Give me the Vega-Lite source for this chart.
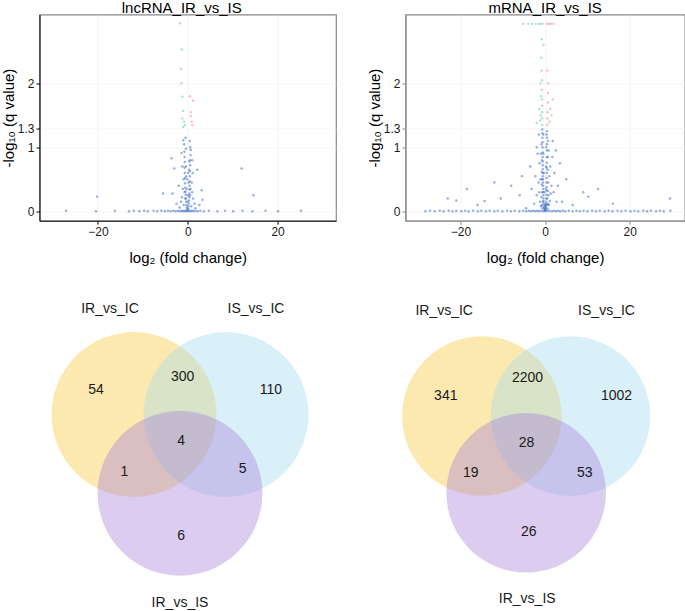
{
  "$schema": "https://vega.github.io/schema/vega-lite/v6.json",
  "padding": {"left": 0.5, "top": -0.5, "right": 0, "bottom": 0},
  "background": "white",
  "columns": 2,
  "bounds": "flush",
  "spacing": {"row": 59.3, "column": 69},
  "resolve": {"scale": {"x": "independent", "y": "independent", "color": "independent"}},
  "config": {
    "font": "Liberation Sans",
    "view": {"stroke": "#888888", "strokeWidth": 1.2},
    "axis": {"grid": true, "gridColor": "#EDEDED", "gridWidth": 0.6, "labelFont": "Liberation Sans", "labelFontSize": 12, "labelColor": "#1A1A1A", "titleFont": "Liberation Sans", "titleFontSize": 15, "titleFontWeight": "normal", "titleColor": "#000000", "tickSize": 3.5, "labelPadding": 2},
    "title": {"fontSize": 15, "fontWeight": "normal", "font": "Liberation Sans", "color": "#000000", "offset": -1, "baseline": "bottom", "anchor": "middle", "frame": "group"}
  },
  "datasets": {
    "lnc": [
      {"x":-27.1,"y":0.01,"g":"n"},{"x":-20.4,"y":0.0,"g":"n"},{"x":-16.2,"y":0.01,"g":"n"},{"x":-13.1,"y":0.0,"g":"n"},{"x":-12.0,"y":0.01,"g":"n"},{"x":-10.8,"y":0.0,"g":"n"},{"x":-9.7,"y":0.01,"g":"n"},{"x":-8.9,"y":0.0,"g":"n"},{"x":-7.6,"y":0.01,"g":"n"},{"x":-6.8,"y":0.0,"g":"n"},{"x":-5.9,"y":0.01,"g":"n"},{"x":-5.1,"y":0.0,"g":"n"},{"x":-4.4,"y":0.01,"g":"n"},{"x":-3.8,"y":0.0,"g":"n"},{"x":-3.2,"y":0.01,"g":"n"},{"x":-2.7,"y":0.0,"g":"n"},{"x":-2.2,"y":0.01,"g":"n"},{"x":-1.8,"y":0.0,"g":"n"},{"x":-1.4,"y":0.01,"g":"n"},{"x":-1.1,"y":0.0,"g":"n"},{"x":-0.8,"y":0.01,"g":"n"},{"x":-0.5,"y":0.0,"g":"n"},{"x":-0.3,"y":0.01,"g":"n"},{"x":0.0,"y":0.0,"g":"n"},{"x":0.3,"y":0.01,"g":"n"},{"x":0.6,"y":0.0,"g":"n"},{"x":0.9,"y":0.01,"g":"n"},{"x":1.3,"y":0.0,"g":"n"},{"x":1.7,"y":0.01,"g":"n"},{"x":2.2,"y":0.0,"g":"n"},{"x":2.8,"y":0.01,"g":"n"},{"x":3.6,"y":0.0,"g":"n"},{"x":4.7,"y":0.01,"g":"n"},{"x":6.6,"y":0.0,"g":"n"},{"x":8.3,"y":0.01,"g":"n"},{"x":10.1,"y":0.0,"g":"n"},{"x":12.2,"y":0.01,"g":"n"},{"x":14.4,"y":0.0,"g":"n"},{"x":17.3,"y":0.01,"g":"n"},{"x":20.1,"y":0.0,"g":"n"},{"x":25.2,"y":0.01,"g":"n"},
      {"x":-0.1,"y":0.03,"g":"n"},{"x":0.1,"y":0.04,"g":"n"},{"x":-0.2,"y":0.06,"g":"n"},{"x":0.15,"y":0.08,"g":"n"},{"x":-0.3,"y":0.1,"g":"n"},{"x":0.25,"y":0.12,"g":"n"},{"x":-0.35,"y":0.15,"g":"n"},{"x":0.3,"y":0.17,"g":"n"},{"x":-0.4,"y":0.2,"g":"n"},{"x":0.35,"y":0.22,"g":"n"},{"x":-0.45,"y":0.26,"g":"n"},{"x":0.38,"y":0.28,"g":"n"},{"x":-0.5,"y":0.31,"g":"n"},{"x":0.4,"y":0.34,"g":"n"},{"x":-0.55,"y":0.37,"g":"n"},{"x":0.42,"y":0.4,"g":"n"},{"x":-0.6,"y":0.44,"g":"n"},{"x":0.45,"y":0.47,"g":"n"},{"x":-0.6,"y":0.52,"g":"n"},{"x":0.48,"y":0.55,"g":"n"},{"x":-0.65,"y":0.6,"g":"n"},{"x":0.5,"y":0.63,"g":"n"},{"x":-0.7,"y":0.68,"g":"n"},{"x":0.55,"y":0.72,"g":"n"},{"x":-0.65,"y":0.77,"g":"n"},{"x":0.5,"y":0.8,"g":"n"},{"x":-0.7,"y":0.85,"g":"n"},{"x":0.6,"y":0.88,"g":"n"},{"x":-0.75,"y":0.93,"g":"n"},{"x":0.55,"y":1.0,"g":"n"},{"x":-0.8,"y":1.05,"g":"n"},{"x":-0.5,"y":1.15,"g":"n"},{"x":0.45,"y":1.1,"g":"n"},{"x":-0.9,"y":0.5,"g":"n"},{"x":0.9,"y":0.45,"g":"n"},{"x":-1.1,"y":0.35,"g":"n"},{"x":1.0,"y":0.3,"g":"n"},{"x":-1.3,"y":0.22,"g":"n"},{"x":1.2,"y":0.2,"g":"n"},{"x":-1.5,"y":0.15,"g":"n"},{"x":1.5,"y":0.12,"g":"n"},{"x":-0.9,"y":0.1,"g":"n"},{"x":0.8,"y":0.08,"g":"n"},{"x":-1.8,"y":0.06,"g":"n"},{"x":1.7,"y":0.05,"g":"n"},{"x":-0.05,"y":0.15,"g":"n"},{"x":0.05,"y":0.25,"g":"n"},{"x":-0.25,"y":0.35,"g":"n"},{"x":0.2,"y":0.45,"g":"n"},{"x":-0.35,"y":0.55,"g":"n"},{"x":0.3,"y":0.65,"g":"n"},{"x":-0.4,"y":0.7,"g":"n"},{"x":0.35,"y":0.78,"g":"n"},{"x":-1.2,"y":0.7,"g":"n"},{"x":1.1,"y":0.6,"g":"n"},{"x":-2.0,"y":0.4,"g":"n"},{"x":2.1,"y":0.65,"g":"n"},{"x":-3.0,"y":0.67,"g":"n"},{"x":-3.6,"y":0.83,"g":"n"},{"x":-1.4,"y":0.91,"g":"n"},{"x":-1.0,"y":1.11,"g":"n"},{"x":-0.44,"y":0.98,"g":"n"},{"x":0.67,"y":0.96,"g":"n"},{"x":1.0,"y":0.8,"g":"n"},{"x":-5.5,"y":0.28,"g":"n"},{"x":3.1,"y":0.33,"g":"n"},{"x":-3.4,"y":0.28,"g":"n"},{"x":3.3,"y":0.18,"g":"n"},{"x":-2.5,"y":0.12,"g":"n"},{"x":2.6,"y":0.1,"g":"n"},{"x":-0.15,"y":0.5,"g":"n"},{"x":0.1,"y":0.6,"g":"n"},{"x":-0.55,"y":0.2,"g":"n"},{"x":0.5,"y":0.25,"g":"n"},{"x":-0.7,"y":0.3,"g":"n"},{"x":0.6,"y":0.35,"g":"n"},{"x":12.0,"y":0.67,"g":"n"},{"x":14.6,"y":0.25,"g":"n"},{"x":-20.2,"y":0.23,"g":"n"},
      {"x":-1.7,"y":2.94,"g":"d"},{"x":-1.3,"y":2.53,"g":"d"},{"x":-1.5,"y":2.23,"g":"d"},{"x":-1.4,"y":2.0,"g":"d"},{"x":-1.2,"y":1.79,"g":"d"},{"x":-1.04,"y":1.57,"g":"d"},{"x":-1.2,"y":1.45,"g":"d"},{"x":-0.8,"y":1.4,"g":"d"},{"x":-0.6,"y":1.35,"g":"d"},{"x":-1.0,"y":1.32,"g":"d"},
      {"x":1.2,"y":1.73,"g":"u"},{"x":0.7,"y":1.55,"g":"u"},{"x":0.67,"y":1.49,"g":"u"},{"x":0.9,"y":1.4,"g":"u"},{"x":0.5,"y":1.8,"g":"u"},{"x":1.0,"y":1.35,"g":"u"}
    ],
    "mrna": [
      {"x":-28.3,"y":0.0,"g":"n"},{"x":-27.2,"y":0.01,"g":"n"},{"x":-26.1,"y":0.0,"g":"n"},{"x":-24.9,"y":0.01,"g":"n"},{"x":-24.0,"y":0.0,"g":"n"},{"x":-22.8,"y":0.01,"g":"n"},{"x":-21.9,"y":0.0,"g":"n"},{"x":-21.0,"y":0.01,"g":"n"},{"x":-19.8,"y":0.0,"g":"n"},{"x":-18.9,"y":0.01,"g":"n"},{"x":-18.1,"y":0.0,"g":"n"},{"x":-17.0,"y":0.01,"g":"n"},{"x":-15.9,"y":0.0,"g":"n"},{"x":-15.1,"y":0.01,"g":"n"},{"x":-14.0,"y":0.0,"g":"n"},{"x":-13.1,"y":0.01,"g":"n"},{"x":-12.0,"y":0.0,"g":"n"},{"x":-11.2,"y":0.01,"g":"n"},{"x":-10.1,"y":0.0,"g":"n"},{"x":-9.0,"y":0.01,"g":"n"},{"x":-8.1,"y":0.0,"g":"n"},{"x":-7.2,"y":0.01,"g":"n"},{"x":-6.1,"y":0.0,"g":"n"},{"x":-5.2,"y":0.01,"g":"n"},{"x":-4.5,"y":0.0,"g":"n"},{"x":-3.9,"y":0.01,"g":"n"},{"x":-3.4,"y":0.0,"g":"n"},{"x":-2.9,"y":0.01,"g":"n"},{"x":-2.4,"y":0.0,"g":"n"},{"x":-1.9,"y":0.01,"g":"n"},{"x":-1.5,"y":0.0,"g":"n"},{"x":-1.0,"y":0.01,"g":"n"},{"x":-0.5,"y":0.0,"g":"n"},{"x":0.0,"y":0.01,"g":"n"},{"x":0.5,"y":0.0,"g":"n"},{"x":1.0,"y":0.01,"g":"n"},{"x":1.6,"y":0.0,"g":"n"},{"x":2.1,"y":0.01,"g":"n"},{"x":2.6,"y":0.0,"g":"n"},{"x":3.1,"y":0.01,"g":"n"},{"x":3.6,"y":0.0,"g":"n"},{"x":4.2,"y":0.01,"g":"n"},{"x":4.8,"y":0.0,"g":"n"},{"x":5.6,"y":0.01,"g":"n"},{"x":6.5,"y":0.0,"g":"n"},{"x":7.4,"y":0.01,"g":"n"},{"x":8.2,"y":0.0,"g":"n"},{"x":9.1,"y":0.01,"g":"n"},{"x":10.0,"y":0.0,"g":"n"},{"x":11.1,"y":0.01,"g":"n"},{"x":12.0,"y":0.0,"g":"n"},{"x":12.9,"y":0.01,"g":"n"},{"x":14.1,"y":0.0,"g":"n"},{"x":15.0,"y":0.01,"g":"n"},{"x":15.9,"y":0.0,"g":"n"},{"x":17.1,"y":0.01,"g":"n"},{"x":18.0,"y":0.0,"g":"n"},{"x":19.0,"y":0.01,"g":"n"},{"x":20.2,"y":0.0,"g":"n"},{"x":21.1,"y":0.01,"g":"n"},{"x":22.0,"y":0.0,"g":"n"},{"x":23.2,"y":0.01,"g":"n"},{"x":24.1,"y":0.0,"g":"n"},{"x":25.0,"y":0.01,"g":"n"},{"x":26.2,"y":0.0,"g":"n"},{"x":27.1,"y":0.01,"g":"n"},{"x":28.0,"y":0.0,"g":"n"},{"x":29.6,"y":0.01,"g":"n"},
      {"x":-0.15,"y":0.02,"g":"n"},{"x":-0.25,"y":0.05,"g":"n"},{"x":-0.3,"y":0.08,"g":"n"},{"x":-0.35,"y":0.12,"g":"n"},{"x":-0.38,"y":0.16,"g":"n"},{"x":-0.4,"y":0.2,"g":"n"},{"x":-0.42,"y":0.25,"g":"n"},{"x":-0.45,"y":0.3,"g":"n"},{"x":-0.47,"y":0.35,"g":"n"},{"x":-0.5,"y":0.4,"g":"n"},{"x":-0.5,"y":0.45,"g":"n"},{"x":-0.52,"y":0.5,"g":"n"},{"x":-0.53,"y":0.55,"g":"n"},{"x":-0.55,"y":0.6,"g":"n"},{"x":-0.55,"y":0.66,"g":"n"},{"x":-0.57,"y":0.72,"g":"n"},{"x":-0.58,"y":0.78,"g":"n"},{"x":-0.6,"y":0.85,"g":"n"},{"x":-0.6,"y":0.92,"g":"n"},{"x":-0.62,"y":1.0,"g":"n"},{"x":-0.62,"y":1.08,"g":"n"},{"x":-0.63,"y":1.15,"g":"n"},{"x":-0.65,"y":1.22,"g":"n"},{"x":-0.66,"y":1.28,"g":"n"},
      {"x":0.15,"y":0.03,"g":"n"},{"x":0.2,"y":0.06,"g":"n"},{"x":0.22,"y":0.1,"g":"n"},{"x":0.25,"y":0.15,"g":"n"},{"x":0.27,"y":0.2,"g":"n"},{"x":0.3,"y":0.26,"g":"n"},{"x":0.32,"y":0.32,"g":"n"},{"x":0.33,"y":0.38,"g":"n"},{"x":0.35,"y":0.45,"g":"n"},{"x":0.36,"y":0.52,"g":"n"},{"x":0.38,"y":0.6,"g":"n"},{"x":0.38,"y":0.68,"g":"n"},{"x":0.4,"y":0.76,"g":"n"},{"x":0.4,"y":0.85,"g":"n"},{"x":0.42,"y":0.95,"g":"n"},{"x":0.43,"y":1.05,"g":"n"},{"x":0.45,"y":1.15,"g":"n"},{"x":0.45,"y":1.25,"g":"n"},
      {"x":0.0,"y":0.01,"g":"n"},{"x":-0.05,"y":0.04,"g":"n"},{"x":0.05,"y":0.07,"g":"n"},{"x":-0.1,"y":0.1,"g":"n"},{"x":0.1,"y":0.12,"g":"n"},{"x":-0.6,"y":0.05,"g":"n"},{"x":0.6,"y":0.04,"g":"n"},{"x":-0.8,"y":0.1,"g":"n"},{"x":0.7,"y":0.12,"g":"n"},{"x":-1.0,"y":0.08,"g":"n"},{"x":0.9,"y":0.1,"g":"n"},{"x":-1.2,"y":0.15,"g":"n"},{"x":1.1,"y":0.16,"g":"n"},{"x":-0.9,"y":0.22,"g":"n"},{"x":0.8,"y":0.25,"g":"n"},{"x":-0.75,"y":0.3,"g":"n"},{"x":0.65,"y":0.32,"g":"n"},{"x":-1.4,"y":0.3,"g":"n"},{"x":1.3,"y":0.28,"g":"n"},{"x":-0.85,"y":0.42,"g":"n"},{"x":0.7,"y":0.45,"g":"n"},{"x":-1.1,"y":0.5,"g":"n"},{"x":1.0,"y":0.55,"g":"n"},{"x":-0.8,"y":0.62,"g":"n"},{"x":0.6,"y":0.65,"g":"n"},{"x":-1.6,"y":0.45,"g":"n"},{"x":1.5,"y":0.4,"g":"n"},{"x":-0.75,"y":0.8,"g":"n"},{"x":0.6,"y":0.85,"g":"n"},{"x":-1.0,"y":0.9,"g":"n"},{"x":0.85,"y":0.95,"g":"n"},{"x":-0.85,"y":1.05,"g":"n"},{"x":0.7,"y":1.1,"g":"n"},{"x":-1.3,"y":0.75,"g":"n"},{"x":1.2,"y":0.7,"g":"n"},{"x":-2.0,"y":0.25,"g":"n"},{"x":2.0,"y":0.3,"g":"n"},{"x":-2.3,"y":0.55,"g":"n"},{"x":2.2,"y":0.6,"g":"n"},{"x":-1.8,"y":0.9,"g":"n"},{"x":1.7,"y":0.85,"g":"n"},{"x":-2.6,"y":0.12,"g":"n"},{"x":2.7,"y":0.15,"g":"n"},{"x":-3.2,"y":0.35,"g":"n"},{"x":3.0,"y":0.4,"g":"n"},{"x":-3.5,"y":0.7,"g":"n"},{"x":3.5,"y":0.75,"g":"n"},{"x":-2.0,"y":1.0,"g":"n"},{"x":2.5,"y":0.95,"g":"n"},{"x":-1.5,"y":1.2,"g":"n"},{"x":1.8,"y":1.1,"g":"n"},{"x":-4.5,"y":0.05,"g":"n"},{"x":4.0,"y":0.15,"g":"n"},{"x":-6.0,"y":0.25,"g":"n"},{"x":6.5,"y":0.1,"g":"n"},{"x":-5.5,"y":0.55,"g":"n"},{"x":5.0,"y":0.5,"g":"n"},{"x":-8.0,"y":0.4,"g":"n"},{"x":9.0,"y":0.3,"g":"n"},{"x":-10.5,"y":0.2,"g":"n"},{"x":10.2,"y":0.23,"g":"n"},{"x":-12.0,"y":0.45,"g":"n"},{"x":12.5,"y":0.35,"g":"n"},{"x":-14.3,"y":0.16,"g":"n"},{"x":16.0,"y":0.12,"g":"n"},{"x":-16.0,"y":0.1,"g":"n"},{"x":-18.5,"y":0.35,"g":"n"},{"x":-21.0,"y":0.17,"g":"n"},{"x":-23.0,"y":0.2,"g":"n"},{"x":29.5,"y":0.2,"g":"n"},{"x":-0.2,"y":0.3,"g":"n"},{"x":0.15,"y":0.35,"g":"n"},{"x":-0.3,"y":0.6,"g":"n"},{"x":0.2,"y":0.7,"g":"n"},{"x":-0.4,"y":0.9,"g":"n"},{"x":0.25,"y":1.0,"g":"n"},{"x":-0.45,"y":1.2,"g":"n"},{"x":0.3,"y":1.2,"g":"n"},{"x":-0.7,"y":0.5,"g":"n"},{"x":0.5,"y":0.2,"g":"n"},{"x":-0.55,"y":0.15,"g":"n"},{"x":0.45,"y":0.1,"g":"n"},
      {"x":-0.67,"y":1.35,"g":"d"},{"x":-0.7,"y":1.45,"g":"d"},{"x":-0.7,"y":1.55,"g":"d"},{"x":-0.72,"y":1.65,"g":"d"},{"x":-0.75,"y":1.75,"g":"d"},{"x":-0.75,"y":1.9,"g":"d"},{"x":-0.78,"y":2.05,"g":"d"},{"x":-0.8,"y":2.2,"g":"d"},{"x":-0.85,"y":2.69,"g":"d"},{"x":-0.9,"y":2.4,"g":"d"},{"x":-1.0,"y":1.5,"g":"d"},{"x":-1.2,"y":1.42,"g":"d"},{"x":-0.95,"y":1.8,"g":"d"},{"x":-1.1,"y":2.0,"g":"d"},{"x":-5.2,"y":2.93,"g":"d"},{"x":-4.0,"y":2.93,"g":"d"},{"x":-3.0,"y":2.93,"g":"d"},{"x":-2.2,"y":2.93,"g":"d"},{"x":-1.5,"y":2.93,"g":"d"},{"x":-1.0,"y":2.93,"g":"d"},{"x":-0.6,"y":2.93,"g":"d"},{"x":-0.4,"y":2.6,"g":"d"},{"x":-1.4,"y":1.6,"g":"d"},{"x":-2.0,"y":1.38,"g":"d"},
      {"x":0.5,"y":1.35,"g":"u"},{"x":0.55,"y":1.45,"g":"u"},{"x":0.6,"y":1.55,"g":"u"},{"x":0.65,"y":1.7,"g":"u"},{"x":0.7,"y":1.85,"g":"u"},{"x":0.75,"y":2.0,"g":"u"},{"x":1.0,"y":1.4,"g":"u"},{"x":1.2,"y":1.6,"g":"u"},{"x":1.5,"y":1.5,"g":"u"},{"x":0.4,"y":2.93,"g":"u"},{"x":0.9,"y":2.93,"g":"u"},{"x":1.4,"y":2.93,"g":"u"},{"x":2.0,"y":2.93,"g":"u"},{"x":0.5,"y":2.2,"g":"u"},{"x":1.8,"y":1.75,"g":"u"}
    ],
    "venn1_sets": [{"set":"IR_vs_IC","x":-0.495,"y":0},{"set":"IS_vs_IC","x":0.495,"y":0},{"set":"IR_vs_IS","x":0,"y":-0.847}],
    "venn1_labels": [{"label":"IR_vs_IC","x":-0.753,"y":1.137},{"label":"IS_vs_IC","x":0.817,"y":1.137},{"label":"IR_vs_IS","x":0,"y":-2.03}],
    "venn1_counts": [{"n":54,"x":-0.903,"y":0.262},{"n":300,"x":0.029,"y":0.398},{"n":110,"x":0.978,"y":0.262},{"n":4,"x":0.011,"y":-0.283},{"n":1,"x":-0.599,"y":-0.616},{"n":5,"x":0.674,"y":-0.581},{"n":6,"x":0.011,"y":-1.304}],
    "venn2_sets": [{"set":"IR_vs_IC","x":-0.493,"y":0},{"set":"IS_vs_IC","x":0.493,"y":0},{"set":"IR_vs_IS","x":0,"y":-0.852}],
    "venn2_labels": [{"label":"IR_vs_IC","x":-0.911,"y":1.17},{"label":"IS_vs_IC","x":0.893,"y":1.17},{"label":"IR_vs_IS","x":0.012,"y":-2.033}],
    "venn2_counts": [{"n":341,"x":-0.893,"y":0.226},{"n":2200,"x":0.015,"y":0.422},{"n":1002,"x":1.004,"y":0.226},{"n":28,"x":0.004,"y":-0.3},{"n":19,"x":-0.615,"y":-0.633},{"n":53,"x":0.652,"y":-0.633},{"n":26,"x":0.029,"y":-1.293}]
  },
  "concat": [
    {
      "width": 296.5,
      "height": 206.2,
      "title": {"text": "lncRNA_IR_vs_IS", "dx": -6},
      "encoding": {
        "x": {"field": "x", "type": "quantitative", "scale": {"domain": [-33, 33], "nice": false, "zero": false}, "axis": {"values": [-20, 0, 20], "title": "log₂ (fold change)", "titlePadding": 13, "domainColor": "#000000", "tickColor": "#000000"}},
        "y": {"field": "y", "type": "quantitative", "scale": {"domain": [-0.1465, 3.0765], "nice": false, "zero": false}, "axis": {"values": [0, 1, 1.3, 2], "format": ".2~g", "title": "-log₁₀ (q value)", "titlePadding": 1, "domainColor": "#000000", "tickColor": "#000000"}}
      },
      "layer": [
        {"data": {"name": "lnc"}, "mark": {"type": "point", "filled": true, "size": 6, "opacity": 0.55, "strokeWidth": 0},
         "encoding": {"color": {"field": "g", "type": "nominal", "scale": {"domain": ["n", "u", "d"], "range": ["#3A6BC9", "#F08A8A", "#6FC7B5"]}, "legend": null}}},
        {"data": {"values": [{}]}, "mark": {"type": "rule", "strokeDash": [4, 2, 1, 2], "color": "#333333", "strokeWidth": 1}, "encoding": {"y": {"datum": 1.3}}},
        {"data": {"values": [{}]}, "mark": {"type": "text", "align": "right", "baseline": "middle", "fontSize": 12, "color": "#000000", "text": "up regulated: 6"}, "encoding": {"x": {"datum": 32}, "y": {"datum": 2.71}}},
        {"data": {"values": [{}]}, "mark": {"type": "text", "align": "right", "baseline": "middle", "fontSize": 12, "color": "#000000", "text": "down regulated: 10"}, "encoding": {"x": {"datum": 32}, "y": {"datum": 2.47}}}
      ]
    },
    {
      "width": 279.3,
      "height": 206.2,
      "title": {"text": "mRNA_IR_vs_IS"},
      "encoding": {
        "x": {"field": "x", "type": "quantitative", "scale": {"domain": [-33, 33], "nice": false, "zero": false}, "axis": {"values": [-20, 0, 20], "title": "log₂ (fold change)", "titlePadding": 13, "domainColor": "#888888", "tickColor": "#888888"}},
        "y": {"field": "y", "type": "quantitative", "scale": {"domain": [-0.1465, 3.0765], "nice": false, "zero": false}, "axis": {"values": [0, 1, 1.3, 2], "format": ".2~g", "title": "-log₁₀ (q value)", "titlePadding": 1, "domainColor": "#888888", "tickColor": "#888888"}}
      },
      "layer": [
        {"data": {"name": "mrna"}, "mark": {"type": "point", "filled": true, "size": 6, "opacity": 0.55, "strokeWidth": 0},
         "encoding": {"color": {"field": "g", "type": "nominal", "scale": {"domain": ["n", "u", "d"], "range": ["#3A6BC9", "#F08A8A", "#6FC7B5"]}, "legend": null}}},
        {"data": {"values": [{}]}, "mark": {"type": "rule", "strokeDash": [3, 1.5, 1, 1.5], "color": "#666666", "strokeWidth": 1}, "encoding": {"y": {"datum": 1.3}}},
        {"data": {"values": [{}]}, "mark": {"type": "text", "align": "right", "baseline": "middle", "fontSize": 12, "color": "#000000", "text": "up regulated: 41"}, "encoding": {"x": {"datum": 32}, "y": {"datum": 2.71}}},
        {"data": {"values": [{}]}, "mark": {"type": "text", "align": "right", "baseline": "middle", "fontSize": 12, "color": "#000000", "text": "down regulated: 85"}, "encoding": {"x": {"datum": 32}, "y": {"datum": 2.47}}}
      ]
    },
    {
      "width": 296.5,
      "height": 328,
      "view": {"stroke": null},
      "encoding": {
        "x": {"field": "x", "type": "quantitative", "scale": {"domain": [-1.5108, 1.6774], "nice": false, "zero": false}, "axis": null},
        "y": {"field": "y", "type": "quantitative", "scale": {"domain": [-2.089, 1.4376], "nice": false, "zero": false}, "axis": null}
      },
      "layer": [
        {"data": {"name": "venn1_sets"}, "mark": {"type": "point", "filled": true, "shape": "circle", "size": 27172, "opacity": 0.4, "strokeWidth": 0},
         "encoding": {"color": {"field": "set", "type": "nominal", "scale": {"domain": ["IR_vs_IC", "IS_vs_IC", "IR_vs_IS"], "range": ["#F7C83A", "#A2DAED", "#A77FD9"]}, "legend": null}}},
        {"data": {"name": "venn1_labels"}, "mark": {"type": "text", "fontSize": 14, "color": "#1A1A1A", "baseline": "middle"}, "encoding": {"text": {"field": "label"}}},
        {"data": {"name": "venn1_counts"}, "mark": {"type": "text", "fontSize": 14, "color": "#1A1A1A", "baseline": "middle"}, "encoding": {"text": {"field": "n"}}}
      ]
    },
    {
      "width": 279.3,
      "height": 328,
      "view": {"stroke": null},
      "encoding": {
        "x": {"field": "x", "type": "quantitative", "scale": {"domain": [-1.3406, 1.7628], "nice": false, "zero": false}, "axis": null},
        "y": {"field": "y", "type": "quantitative", "scale": {"domain": [-2.141, 1.5033], "nice": false, "zero": false}, "axis": null}
      },
      "layer": [
        {"data": {"name": "venn2_sets"}, "mark": {"type": "point", "filled": true, "shape": "circle", "size": 25447, "opacity": 0.4, "strokeWidth": 0},
         "encoding": {"color": {"field": "set", "type": "nominal", "scale": {"domain": ["IR_vs_IC", "IS_vs_IC", "IR_vs_IS"], "range": ["#F7C83A", "#A2DAED", "#A77FD9"]}, "legend": null}}},
        {"data": {"name": "venn2_labels"}, "mark": {"type": "text", "fontSize": 14, "color": "#1A1A1A", "baseline": "middle"}, "encoding": {"text": {"field": "label"}}},
        {"data": {"name": "venn2_counts"}, "mark": {"type": "text", "fontSize": 14, "color": "#1A1A1A", "baseline": "middle"}, "encoding": {"text": {"field": "n"}}}
      ]
    }
  ]
}
